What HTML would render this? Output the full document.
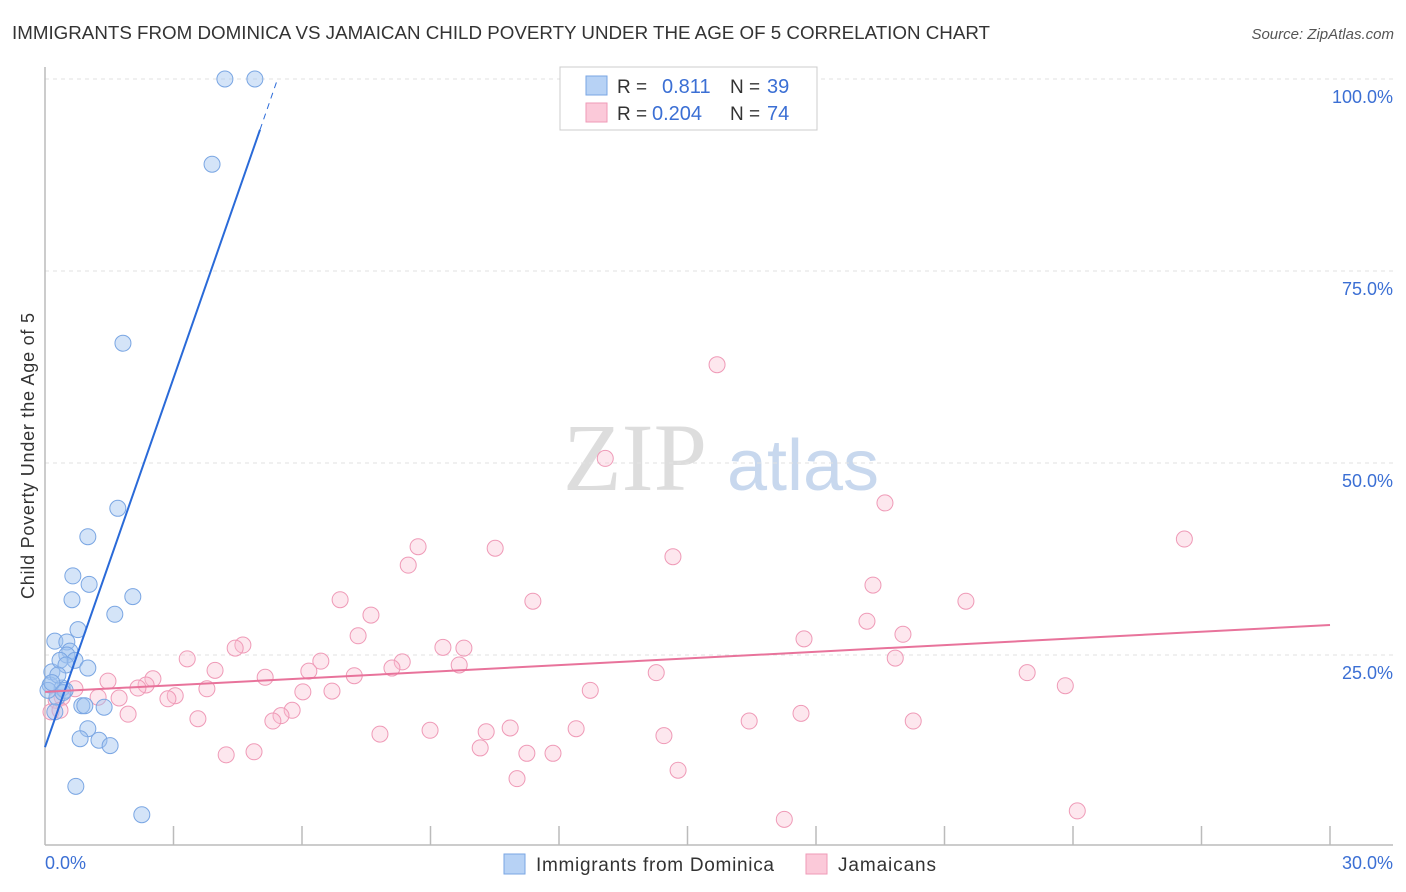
<!DOCTYPE html>
<html><head><meta charset="utf-8">
<style>
body{margin:0;background:#fff;font-family:"Liberation Sans",sans-serif;}
svg{display:block}
</style></head>
<body>
<svg id="chart" width="1406" height="892" viewBox="0 0 1406 892">
<text x="12" y="39" font-size="18" fill="#333" textLength="978" lengthAdjust="spacingAndGlyphs">IMMIGRANTS FROM DOMINICA VS JAMAICAN CHILD POVERTY UNDER THE AGE OF 5 CORRELATION CHART</text>
<text x="1394" y="39" font-size="15" fill="#555" font-style="italic" text-anchor="end">Source: ZipAtlas.com</text>
<text transform="translate(34,456) rotate(-90)" font-size="18" fill="#333" text-anchor="middle" textLength="286">Child Poverty Under the Age of 5</text>
<g>
<text x="635" y="490" font-size="96" font-family="Liberation Serif,serif" fill="#ddd" text-anchor="middle">ZIP</text>
<text x="803" y="490" font-size="72" fill="#c8d8ee" text-anchor="middle">atlas</text>
</g>
<g id="grid"></g><g id="axes"></g><g id="marks"></g>
<g>
<rect x="560" y="67" width="257" height="63" fill="#fff" stroke="#ccc"/>
<rect x="586" y="76" width="21" height="19" fill="#b7d2f5" stroke="#7aa6e3"/>
<rect x="586" y="103" width="21" height="19" fill="#fbc9d9" stroke="#ef9ab7"/>
<text x="617" y="93" font-size="19" fill="#333">R = </text><text x="662" y="93" font-size="20" fill="#3b6fd4">0.811</text>
<text x="730" y="93" font-size="19" fill="#333">N = </text><text x="767" y="93" font-size="20" fill="#3b6fd4">39</text>
<text x="617" y="120" font-size="19" fill="#333">R = </text><text x="652" y="120" font-size="20" fill="#3b6fd4">0.204</text>
<text x="730" y="120" font-size="19" fill="#333">N = </text><text x="767" y="120" font-size="20" fill="#3b6fd4">74</text>
</g>
<g>
<rect x="504" y="854" width="21" height="20" fill="#b7d2f5" stroke="#7aa6e3"/>
<text x="536" y="871" font-size="19" fill="#333" textLength="238">Immigrants from Dominica</text>
<rect x="806" y="854" width="21" height="20" fill="#fbc9d9" stroke="#ef9ab7"/>
<text x="838" y="871" font-size="19" fill="#333" textLength="98">Jamaicans</text>
</g>
</svg>
<script>
const yTicks=[25,50,75,100];
const yTickLabels=["25.0%","50.0%","75.0%","100.0%"];
const xTicks=[0,3,6,9,12,15,18,21,24,27,30];
const blueX=[4.20,4.90,3.90,1.82,1.70,1.00,0.65,1.03,2.05,0.63,1.63,0.77,0.23,0.51,0.58,0.51,0.70,1.00,0.16,0.12,0.40,0.28,0.47,0.86,0.93,1.38,0.23,1.00,0.82,1.26,1.52,0.72,2.26,0.07,0.35,0.49,0.30,0.16,0.42];
const blueY=[100,100,88.9,65.6,44.1,40.4,35.3,34.2,32.6,32.2,30.3,28.3,26.8,26.7,25.5,25.0,24.3,23.3,22.8,21.1,20.7,19.5,20.4,18.4,18.4,18.2,17.6,15.4,14.1,13.9,13.2,7.9,4.2,20.4,24.3,23.7,22.4,21.4,20.1];
const pinkX=[15.69,13.08,19.61,26.60,8.71,10.51,8.48,14.66,19.33,6.89,11.39,21.50,7.61,19.19,7.31,20.03,17.72,4.62,4.44,9.29,9.78,3.32,6.44,8.34,9.67,19.85,3.97,6.16,14.27,2.52,5.14,8.10,7.22,1.47,2.36,2.17,3.78,12.73,22.93,23.82,6.02,6.70,3.04,2.87,1.73,1.24,0.70,0.40,0.26,0.14,1.94,5.77,5.51,5.32,3.57,16.44,17.65,20.27,12.40,8.99,10.86,10.30,7.82,14.45,10.16,11.25,11.86,4.23,4.88,14.78,11.02,17.26,24.10,0.35];
const pinkY=[62.8,50.6,44.8,40.1,39.1,38.9,36.7,37.8,34.1,32.2,32.0,32.0,30.2,29.4,27.5,27.7,27.1,26.3,25.9,26.0,25.9,24.5,24.2,24.1,23.7,24.6,23.0,22.9,22.7,21.9,22.1,23.3,22.3,21.6,21.1,20.7,20.6,20.4,22.7,21.0,20.2,20.3,19.7,19.3,19.4,19.5,20.6,19.5,19.1,17.6,17.3,17.8,17.1,16.4,16.7,16.4,17.4,16.4,15.4,15.2,15.5,15.0,14.7,14.5,12.9,12.2,12.2,12.0,12.4,10.0,8.9,3.6,4.7,17.8];
const blueLine=[0,13.0,5.02,93.4,5.43,100];
const pinkLine=[0,20.2,30,28.9];
const NS="http://www.w3.org/2000/svg";
const sx=v=>45+v/30*1285, sy=v=>847-v/100*768;
function mk(t,a,p){const e=document.createElementNS(NS,t);for(const k in a)e.setAttribute(k,a[k]);p.appendChild(e);return e;}
const grid=document.getElementById('grid'),axes=document.getElementById('axes'),marks=document.getElementById('marks');
yTicks.forEach((t,i)=>{
 const l=mk('line',{x1:45,x2:1393,y1:sy(t),y2:sy(t),stroke:'#e2e2e2','stroke-dasharray':'4,4'},grid);
 
 
 const tx=mk('text',{x:1393,y:sy(t)+24,'font-size':18,fill:'#3b6fd4','text-anchor':'end'},grid);
 tx.textContent=yTickLabels[i];
 
 
});
const ax=mk('line',{x1:45,x2:1393,y1:845,y2:845,stroke:'#bbb','stroke-width':1.5},axes);


const ay=mk('line',{x1:45,x2:45,y1:67,y2:845,stroke:'#bbb','stroke-width':1.5},axes);


xTicks.forEach(t=>{if(t===0)return;
 const l=mk('line',{x1:sx(t),x2:sx(t),y1:826,y2:845,stroke:'#bbb','stroke-width':1.5},axes);
 
 
});
const x0=mk('text',{x:45,y:869,'font-size':18,fill:'#3b6fd4'},axes);x0.textContent='0.0%';


const x1=mk('text',{x:1393,y:869,'font-size':18,fill:'#3b6fd4','text-anchor':'end'},axes);x1.textContent='30.0%';


pinkX.forEach((v,i)=>{
 const c=mk('circle',{cx:sx(v),cy:sy(pinkY[i]),r:8,fill:'rgba(248,185,205,0.35)',stroke:'#ef9ab7','stroke-width':1},marks);
 
 
});
blueX.forEach((v,i)=>{
 const c=mk('circle',{cx:sx(v),cy:sy(blueY[i]),r:8,fill:'rgba(160,195,240,0.45)',stroke:'#7aa6e3','stroke-width':1},marks);
 
 
});
const bl=mk('line',{x1:sx(blueLine[0]),y1:sy(blueLine[1]),x2:sx(blueLine[2]),y2:sy(blueLine[3]),stroke:'#2a6ad8','stroke-width':2},marks);


const bd=mk('line',{x1:sx(blueLine[2]),y1:sy(blueLine[3]),x2:sx(blueLine[4]),y2:sy(blueLine[5]),stroke:'#2a6ad8','stroke-width':1,'stroke-dasharray':'6,5'},marks);


const pl=mk('line',{x1:sx(pinkLine[0]),y1:sy(pinkLine[1]),x2:sx(pinkLine[2]),y2:sy(pinkLine[3]),stroke:'#e8739b','stroke-width':2},marks);


</script>
</body></html>
